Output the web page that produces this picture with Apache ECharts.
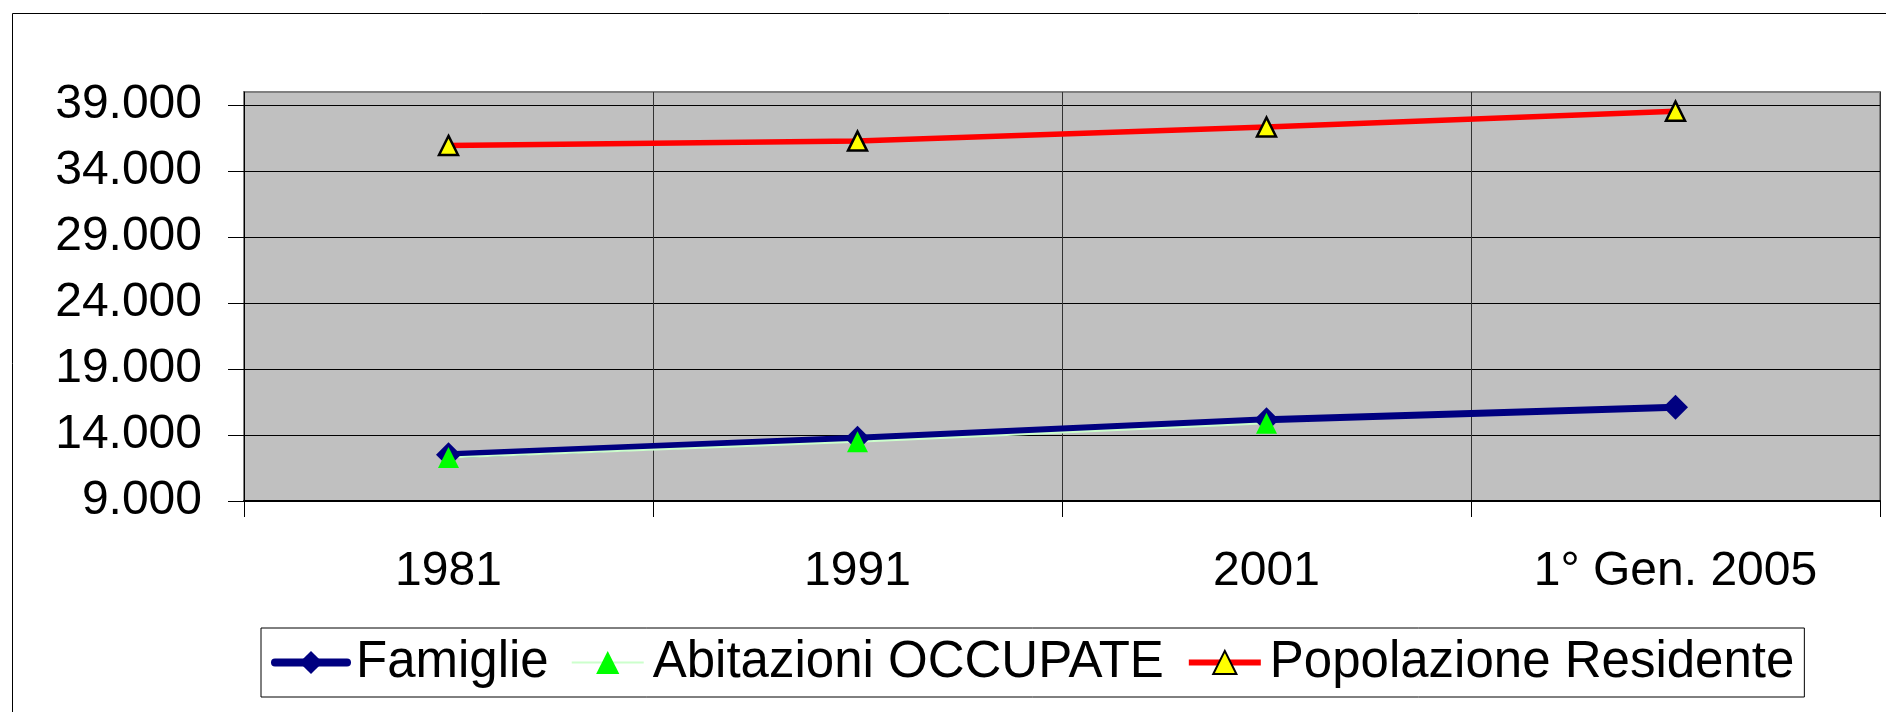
<!DOCTYPE html>
<html>
<head>
<meta charset="utf-8">
<script src="https://cdn.jsdelivr.net/npm/echarts@6/dist/echarts.min.js"></script>
<style>
  html, body { margin: 0; padding: 0; background: #fff; }
  #chart { width: 1886px; height: 712px; }
</style>
</head>
<body>
<div id="chart"></div>
<script>
// dati
const anni = ['1981', '1991', '2001', '1° Gen. 2005'];
const famiglie = [12500, 13750, 15150, 16100];
const abitazioni = [12300, 13500, 14900, null];
const popolazione = [35950, 36280, 37350, 38550];
const yTicks = [9000, 14000, 19000, 24000, 29000, 34000, 39000];

const FONT = '"Liberation Sans", Arial, sans-serif';

// 39000 -> "39.000"
const migliaia = v => String(v).replace(/\B(?=(\d{3})+(?!\d))/g, '.');

const chart = echarts.init(document.getElementById('chart'));

const option = {
    backgroundColor: '#fff',
    animation: false,
    graphic: [{
        type: 'rect',
        left: 10,
        top: 11,
        shape: { width: 2000, height: 2000 },
        style: { fill: 'none', stroke: '#000', lineWidth: 1 },
        silent: true,
        z: -1
    }],
    grid: {
        left: 244,
        right: 6,
        top: 92,
        bottom: 211,
        show: true,
        backgroundColor: '#C0C0C0',
        borderColor: '#808080',
        borderWidth: 2,
        containLabel: false,
        outerBoundsMode: 'none'
    },
    legend: {
        left: 261,
        top: 628,
        padding: [9, 10, 9, 10],
        itemGap: 22,
        itemWidth: 72,
        itemHeight: 29,
        borderColor: '#000',
        borderWidth: 1,
        backgroundColor: '#fff',
        textStyle: { fontSize: 51, fontFamily: FONT, color: '#000', padding: [0, 0, 0, 4] },
        data: [
            { name: 'Famiglie', lineStyle: { width: 8, cap: 'round' } },
            { name: 'Abitazioni OCCUPATE', lineStyle: { width: 2 } },
            { name: 'Popolazione Residente', lineStyle: { width: 6 } }
        ]
    },
    xAxis: {
        type: 'category',
        data: anni,
        boundaryGap: true,
        axisLine: { lineStyle: { color: '#000', width: 2 } },
        axisTick: { show: true, length: 16, lineStyle: { color: '#000', width: 1 } },
        axisLabel: { fontSize: 48, fontFamily: FONT, color: '#000', margin: 47 },
        splitLine: { show: true, lineStyle: { color: '#333', width: 1 } }
    },
    yAxis: {
        type: 'value',
        min: 9000,
        max: 40000,
        interval: 5000,
        axisLine: { show: true, lineStyle: { color: '#000', width: 1 } },
        axisTick: { show: true, length: 16, customValues: yTicks, lineStyle: { color: '#000', width: 1 } },
        axisLabel: {
            fontSize: 48,
            fontFamily: FONT,
            color: '#000',
            margin: 42,
            customValues: yTicks,
            formatter: v => (yTicks.includes(v) ? migliaia(v) : '')
        },
        splitLine: {
            show: true,
            lineStyle: {
                color: ['#000', '#000', '#000', '#000', '#000', '#000', '#000', '#808080'],
                width: 1
            }
        }
    },
    series: [
        {
            name: 'Famiglie',
            type: 'line',
            data: famiglie,
            symbol: 'diamond',
            symbolSize: 25,
            lineStyle: { color: '#000080', width: 7 },
            itemStyle: { color: '#000080' }
        },
        {
            name: 'Abitazioni OCCUPATE',
            type: 'line',
            data: abitazioni,
            symbol: 'triangle',
            symbolSize: 21,
            lineStyle: { color: '#CCFFCC', width: 2 },
            itemStyle: { color: '#00FF00' }
        },
        {
            name: 'Popolazione Residente',
            type: 'line',
            data: popolazione,
            symbol: 'triangle',
            symbolSize: 19,
            lineStyle: { color: '#FF0000', width: 5.5 },
            itemStyle: { color: '#FFFF00', borderColor: '#000', borderWidth: 2.5 }
        }
    ]
};

chart.setOption(option);
</script>
</body>
</html>
